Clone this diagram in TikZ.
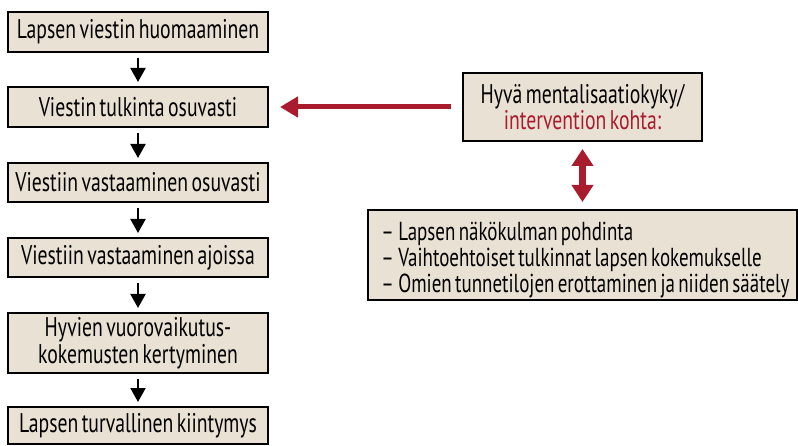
\documentclass[tikz,border=0pt]{standalone}
\usepackage{fontspec}
\setmainfont[FakeStretch=0.73,WordSpace={0.65}]{PT Sans}
\usetikzlibrary{arrows.meta}
\definecolor{boxfill}{HTML}{E9E1D3}
\definecolor{darkred}{HTML}{A81C2E}
\tikzset{
  x=1pt, y=-1pt,
  flowbox/.style={draw=black, line width=2pt, fill=boxfill, inner sep=0pt, align=center,
    minimum width=260pt, font=\fontsize{27}{27}\selectfont},
  flowarrow/.style={line width=2pt, -{Triangle[width=15pt,length=14pt]}},
  redarrow/.style={draw=darkred, line width=5pt, -{Triangle[width=20pt,length=18pt]}},
  dblarrow/.style={draw=darkred, line width=7pt, {Triangle[width=21pt,length=17pt]}-{Triangle[width=21pt,length=17pt]}},
}
\begin{document}
\begin{tikzpicture}
\useasboundingbox (0,0) rectangle (798,446);
\node[flowbox, minimum height=40pt] (b1) at (138,32) {Lapsen viestin huomaaminen};
\node[flowbox, minimum height=40pt] (b2) at (138,107) {Viestin tulkinta osuvasti};
\node[flowbox, minimum height=39pt] (b3) at (138,182.5) {Viestiin vastaaminen osuvasti};
\node[flowbox, minimum height=39pt] (b4) at (138,257.5) {Viestiin vastaaminen ajoissa};
\node[flowbox, minimum height=60pt] (b5) at (138,343) {Hyvien vuorovaikutus-\\kokemusten kertyminen};
\node[flowbox, minimum height=37pt] (b6) at (138,425.5) {Lapsen turvallinen kiintymys};
\foreach \a/\b in {b1/b2,b2/b3,b3/b4,b4/b5,b5/b6}
  \draw[flowarrow] ([yshift=-5pt]\a.south) -- ([yshift=4pt]\b.north);
\node[flowbox, minimum width=239pt, minimum height=68pt, font=\fontsize{27}{22}\selectfont] (hyva) at (582.5,107)
  {Hyvä mentalisaatiokyky/\\\textcolor{darkred}{intervention kohta:}};
\node[flowbox, minimum width=429pt, minimum height=90pt, align=left, font=\fontsize{26}{26}\selectfont] (list) at (582.5,255)
  {\mbox{}\\[2pt]\hspace*{6pt}–\,Lapsen näkökulman pohdinta\\\hspace*{6pt}–\,Vaihtoehtoiset tulkinnat lapsen kokemukselle\\\hspace*{6pt}–\,Omien tunnetilojen erottaminen ja niiden säätely};
\draw[redarrow] ([xshift=-11pt]hyva.west) -- ([xshift=11pt]b2.east);
\draw[dblarrow] ([yshift=-7pt]hyva.south) -- ([yshift=7pt]list.north);
\end{tikzpicture}
\end{document}
